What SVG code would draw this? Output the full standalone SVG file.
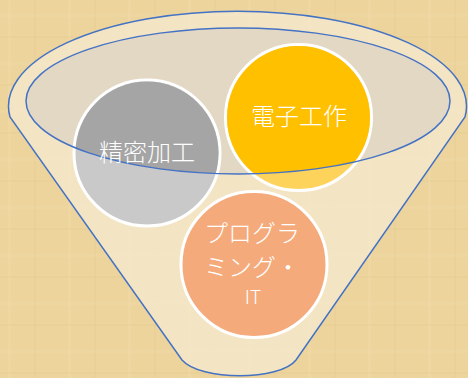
<svg xmlns="http://www.w3.org/2000/svg" width="468" height="378" viewBox="0 0 468 378">
  <style>
    .lbl { font-family: "Noto Sans CJK JP", "Noto Sans", sans-serif; font-size: 24px; font-weight: 300; fill: #ffffff; text-anchor: middle; }
    .ring { stroke: #ffffff; stroke-width: 3; }
    .blue { fill: none; stroke: #4472c4; stroke-width: 1.5; }
  </style>
  <defs>
    <pattern id="parch" width="60" height="48" patternUnits="userSpaceOnUse">
      <rect width="60" height="48" fill="#ecd49c"/>
      <rect x="8" y="0" width="3" height="48" fill="#f0dba8" opacity="0.4"/>
      <rect x="34" y="0" width="2" height="48" fill="#e6cc92" opacity="0.35"/>
      <rect x="0" y="14" width="60" height="3" fill="#efd9a5" opacity="0.35"/>
      <rect x="0" y="36" width="60" height="2" fill="#e6cb90" opacity="0.3"/>
    </pattern>
    <clipPath id="inner">
      <ellipse cx="238" cy="101" rx="212" ry="73"/>
    </clipPath>
  </defs>

  <rect width="468" height="378" fill="url(#parch)"/>

  <g id="funnel">
    <path d="M 10 117 A 229 95 0 1 1 465 117 L 296 360 C 280 381 200 381 182 360 Z" fill="#f3e6c6" opacity="0.95"/>
    <ellipse cx="238" cy="101" rx="212" ry="73" fill="#e2d8c4"/>
    <path class="blue" d="M 10 117 A 229 95 0 1 1 465 117 L 296 360 C 280 381 200 381 182 360 Z"/>
  </g>

  <g id="node-seimitsu">
    <circle cx="147" cy="153" r="73" fill="#c9c9c9" class="ring"/>
    <circle cx="147" cy="153" r="71.5" fill="#a5a5a5" clip-path="url(#inner)"/>
  </g>
  <g id="node-denshi">
    <circle cx="298.5" cy="117.5" r="73" fill="#fdd35c" class="ring"/>
    <circle cx="298.5" cy="117.5" r="71.5" fill="#ffc000" clip-path="url(#inner)"/>
  </g>
  <g id="node-program">
    <circle cx="254" cy="264.5" r="73" fill="#f4aa7a" class="ring"/>
  </g>

  <g id="connectors">
    <ellipse class="blue" cx="238" cy="101" rx="212" ry="73"/>
  </g>

  <g id="labels">
    <text class="lbl" x="147" y="161">精密加工</text>
    <text class="lbl" x="299" y="125">電子工作</text>
    <text class="lbl" x="252" y="242">プログラ</text>
    <text class="lbl" x="252" y="276">ミング・</text>
    <text class="lbl" x="253" y="304" style="font-size:19px">IT</text>
  </g>
</svg>
